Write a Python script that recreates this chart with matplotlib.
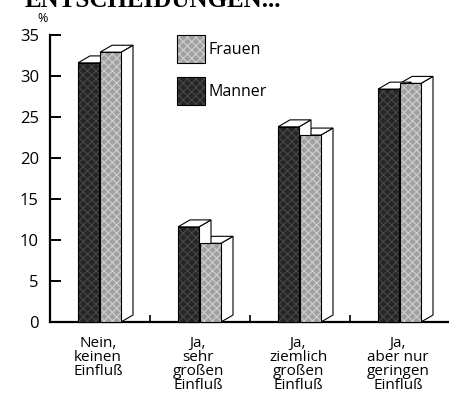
import matplotlib
matplotlib.use('Agg')
import matplotlib.pyplot as plt
from matplotlib.patches import Polygon, Rectangle
import numpy as np

plt.rcParams['font.family'] = ['Open Sans', 'DejaVu Sans']
plt.rcParams['hatch.linewidth'] = 0.8

categories = ["Nein,\nkeinen\nEinfluß", "Ja,\nsehr\ngroßen\nEinfluß",
              "Ja,\nziemlich\ngroßen\nEinfluß", "Ja,\naber nur\ngeringen\nEinfluß"]
maenner = [31.6, 11.6, 23.8, 28.4]
frauen = [32.9, 9.6, 22.8, 29.1]
yticks = [0, 5, 10, 15, 20, 25, 30, 35]

DARK = '#262626'
LIGHT = '#a0a0a0'
W = 0.21          # bar width (x units)
DX, DY = 0.12, 0.85   # depth offset for the 3d look


def bar3d(ax, x0, h, color, hatch_col):
    # side face, top face, then front face
    side = Polygon([(x0 + W, 0), (x0 + W + DX, DY), (x0 + W + DX, h + DY), (x0 + W, h)],
                   closed=True, facecolor='white', edgecolor='black', lw=0.8, clip_on=False, zorder=2)
    top = Polygon([(x0, h), (x0 + DX, h + DY), (x0 + W + DX, h + DY), (x0 + W, h)],
                  closed=True, facecolor='white', edgecolor='black', lw=0.8, clip_on=False, zorder=2)
    front = Rectangle((x0, 0), W, h, facecolor=color, edgecolor=hatch_col, hatch='xxxx',
                      lw=0, clip_on=False, zorder=3)
    outline = Rectangle((x0, 0), W, h, facecolor='none', edgecolor='black', lw=0.8,
                        clip_on=False, zorder=4)
    for p in (side, top, front, outline):
        ax.add_patch(p)


fig = plt.figure(figsize=(4.49, 4.11), dpi=100)
ax = fig.add_axes([50 / 449, 1 - 322 / 411, 399 / 449, 287 / 411])
ax.set_xlim(-0.5, 3.49)
ax.set_ylim(0, 35)

x = np.arange(len(categories))
for i in range(len(categories)):
    # Frauen drawn first so the Männer front sits on top of it
    bar3d(ax, x[i], frauen[i], LIGHT, '#d0d0d0')
    bar3d(ax, x[i] - W - 0.01, maenner[i], DARK, '#484848')

for s in ('top', 'right'):
    ax.spines[s].set_visible(False)
ax.spines['left'].set_linewidth(1.6)
ax.spines['bottom'].set_linewidth(1.6)

ax.set_yticks(yticks)
ax.set_yticklabels([str(v) for v in yticks], fontsize=12)
ax.tick_params(axis='y', direction='in', length=8, width=1.4, pad=8)
ax.set_xticks(x[:-1] + 0.5)
ax.set_xticklabels([])
ax.tick_params(axis='x', direction='in', length=5, width=1.2)

for i, lab in enumerate(categories):
    ax.text(x[i] - 0.02, -1.7, lab, ha='center', va='top', fontsize=11,
            linespacing=0.92, transform=ax.transData)

# legend boxes
for (y0, col, hc, name) in [(35, LIGHT, '#d0d0d0', 'Frauen'), (77, DARK, '#484848', 'Manner')]:
    r = Rectangle((177 / 449, 1 - (y0 + 28) / 411), 28 / 449, 28 / 411, transform=fig.transFigure,
                  facecolor=col, edgecolor=hc, hatch='xxxx', lw=0)
    fig.patches.append(r)
    fig.patches.append(Rectangle((177 / 449, 1 - (y0 + 28) / 411), 28 / 449, 28 / 411,
                                 transform=fig.transFigure, facecolor='none',
                                 edgecolor='black', lw=0.8))
    fig.text(208 / 449, 1 - (y0 + 15) / 411, name, fontsize=11.5, va='center', ha='left')

fig.text(43 / 449, 1 - 18 / 411, '%', fontsize=9, ha='center', va='center')
fig.text(25 / 449, 1 - 7 / 411, 'ENTSCHEIDUNGEN...', fontsize=18, fontweight='bold',
         family='Liberation Serif', ha='left', va='baseline')

fig.savefig('out.png', dpi=100)
